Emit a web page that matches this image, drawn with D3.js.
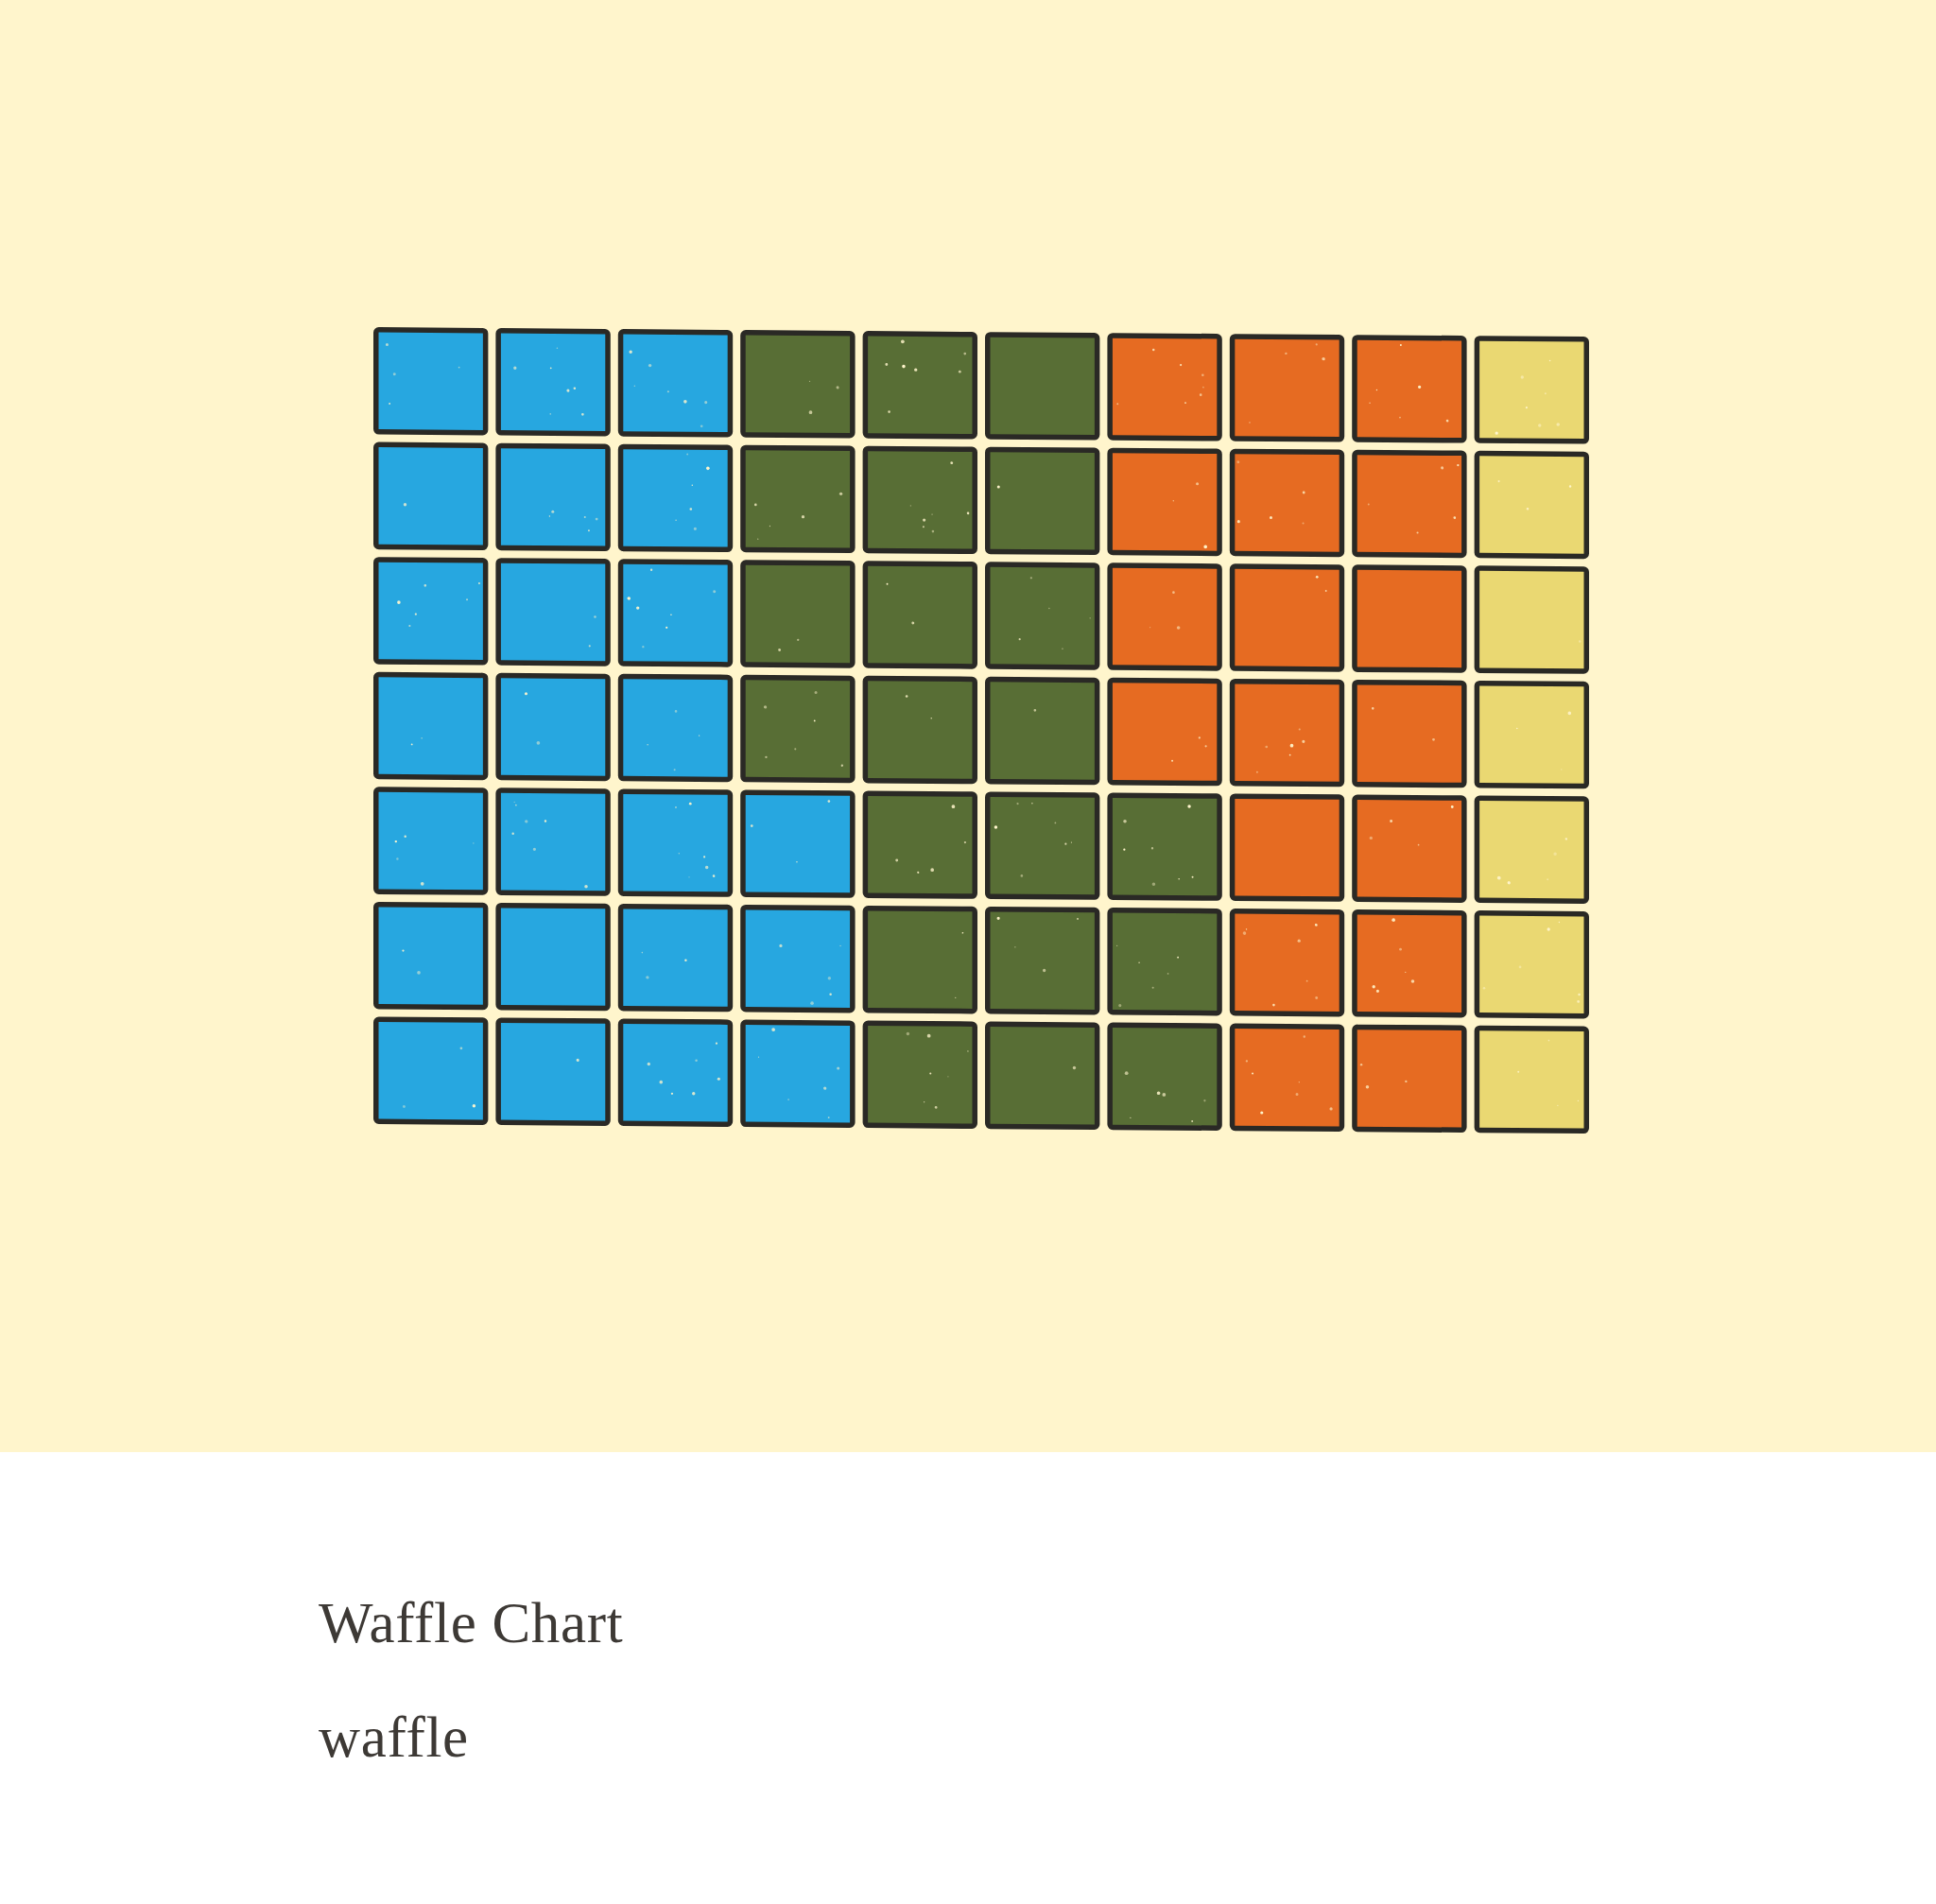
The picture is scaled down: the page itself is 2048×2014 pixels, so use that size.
<!DOCTYPE html>
<html>
<head>
<meta charset="utf-8">
<script src="https://cdn.jsdelivr.net/npm/d3@7"></script>
<style>
  html, body { margin: 0; padding: 0; background: #ffffff; }
  svg { display: block; }
</style>
</head>
<body>
<script>
// ---- data ----
const categories = ["Blue", "Green", "Orange", "Yellow"];
const counts = [24, 21, 18, 7];
const colors = ["#27A7E0", "#586E35", "#E66B22", "#EAD872"];
const nCols = 10;
const nRows = 7;
const title = "Waffle Chart";
const subtitle = "waffle";

// ---- layout ----
const W = 2048, H = 2014;
const svg = d3.select("body").append("svg").attr("width", W).attr("height", H);

svg.append("rect").attr("x", 0).attr("y", 0).attr("width", W).attr("height", 1536).attr("fill", "#FFF5CC");

// Build cells: fill column by column, bottom to top
const cells = [];
let idx = 0;
categories.forEach((c, ci) => {
  for (let k = 0; k < counts[ci]; k++) {
    const col = Math.floor(idx / nRows);
    const row = nRows - 1 - (idx % nRows);
    cells.push({ cat: c, ci, col, row, i: idx });
    idx++;
  }
});

const x = d3.scaleBand().domain(d3.range(nCols)).range([395, 1681]).paddingInner(0.062);
const y = d3.scaleBand().domain(d3.range(nRows)).range([346, 1189]).paddingInner(0.066);
const color = d3.scaleOrdinal().domain(categories).range(colors);

const sw = 5.5;
const g = svg.append("g").attr("transform", "translate(395,0) skewY(0.45) translate(-395,0)");

const rnd = d3.randomLcg(0.4217);
const cellG = g.selectAll("g.cell").data(cells).join("g").attr("class", "cell");

cellG.append("rect")
  .attr("x", d => x(d.col) + sw / 2)
  .attr("y", d => y(d.row) + sw / 2)
  .attr("width", x.bandwidth() - sw)
  .attr("height", y.bandwidth() - sw)
  .attr("rx", 3).attr("ry", 3)
  .attr("fill", d => color(d.cat))
  .attr("stroke", "#2a2925")
  .attr("stroke-width", sw)
  .attr("stroke-linejoin", "round");

// decorative speckle texture
cellG.each(function(d) {
  const n = Math.floor(rnd() * 8);
  const sel = d3.select(this);
  for (let k = 0; k < n; k++) {
    sel.append("circle")
      .attr("cx", x(d.col) + 9 + rnd() * (x.bandwidth() - 18))
      .attr("cy", y(d.row) + 9 + rnd() * (y.bandwidth() - 18))
      .attr("r", 0.6 + rnd() * 1.3)
      .attr("fill", "#FFF5CC")
      .attr("opacity", 0.4 + rnd() * 0.6);
  }
});

svg.append("text")
  .attr("x", 337).attr("y", 1737)
  .attr("font-family", "'Liberation Serif', 'DejaVu Serif', serif")
  .attr("font-size", 61)
  .attr("letter-spacing", 0.7)
  .attr("fill", "#3d3935")
  .text(title);

svg.append("text")
  .attr("x", 337).attr("y", 1858)
  .attr("font-family", "'Liberation Serif', 'DejaVu Serif', serif")
  .attr("font-size", 61)
  .attr("letter-spacing", 0.7)
  .attr("fill", "#3d3935")
  .text(subtitle);
</script>
</body>
</html>
